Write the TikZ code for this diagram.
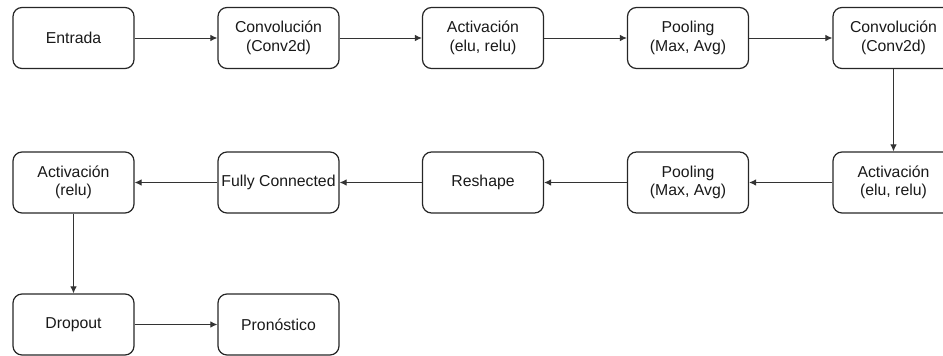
\documentclass[tikz,border=0pt]{standalone}
\usepackage{fontspec}
\setmainfont{Liberation Sans}
\usetikzlibrary{arrows.meta}
\begin{document}
\begin{tikzpicture}[x=1pt,y=-1pt,
  stage/.style={draw=black!85, line width=1.2pt, rounded corners=9pt,
    minimum width=121pt, minimum height=61pt, inner sep=0pt,
    align=center, text=black!90,
    font=\fontsize{15.8}{18.5}\selectfont},
  flow/.style={draw=black!80, line width=1pt,
    -{Latex[length=7pt,width=6.5pt]}}]
\useasboundingbox (0,0) rectangle (943,356);
\clip (0,0) rectangle (943,356);
% first row: left to right
\node[stage] (in)    at (73.5,38)  {Entrada};
\node[stage] (conv1) at (278.5,38) {Convolución\\(Conv2d)};
\node[stage] (act1)  at (483,38)   {Activación\\(elu, relu)};
\node[stage] (pool1) at (688,38)   {Pooling\\(Max, Avg)};
\node[stage] (conv2) at (893.5,38) {Convolución\\(Conv2d)};
% second row: right to left
\node[stage] (act2)  at (893.5,182.5) {Activación\\(elu, relu)};
\node[stage] (pool2) at (688,182.5)   {Pooling\\(Max, Avg)};
\node[stage] (resh)  at (483,182.5)   {Reshape};
\node[stage] (fc)    at (278.5,182.5) {Fully Connected};
\node[stage] (act3)  at (73.5,182.5)  {Activación\\(relu)};
% third row
\node[stage] (drop)  at (73.5,324.5)  {Dropout};
\node[stage] (pred)  at (278.5,324.5) {Pronóstico};
% connectors
\draw[flow] (in) -- (conv1);
\draw[flow] (conv1) -- (act1);
\draw[flow] (act1) -- (pool1);
\draw[flow] (pool1) -- (conv2);
\draw[flow] (conv2) -- (act2);
\draw[flow] (act2) -- (pool2);
\draw[flow] (pool2) -- (resh);
\draw[flow] (resh) -- (fc);
\draw[flow] (fc) -- (act3);
\draw[flow] (act3) -- (drop);
\draw[flow] (drop) -- (pred);
\end{tikzpicture}
\end{document}
